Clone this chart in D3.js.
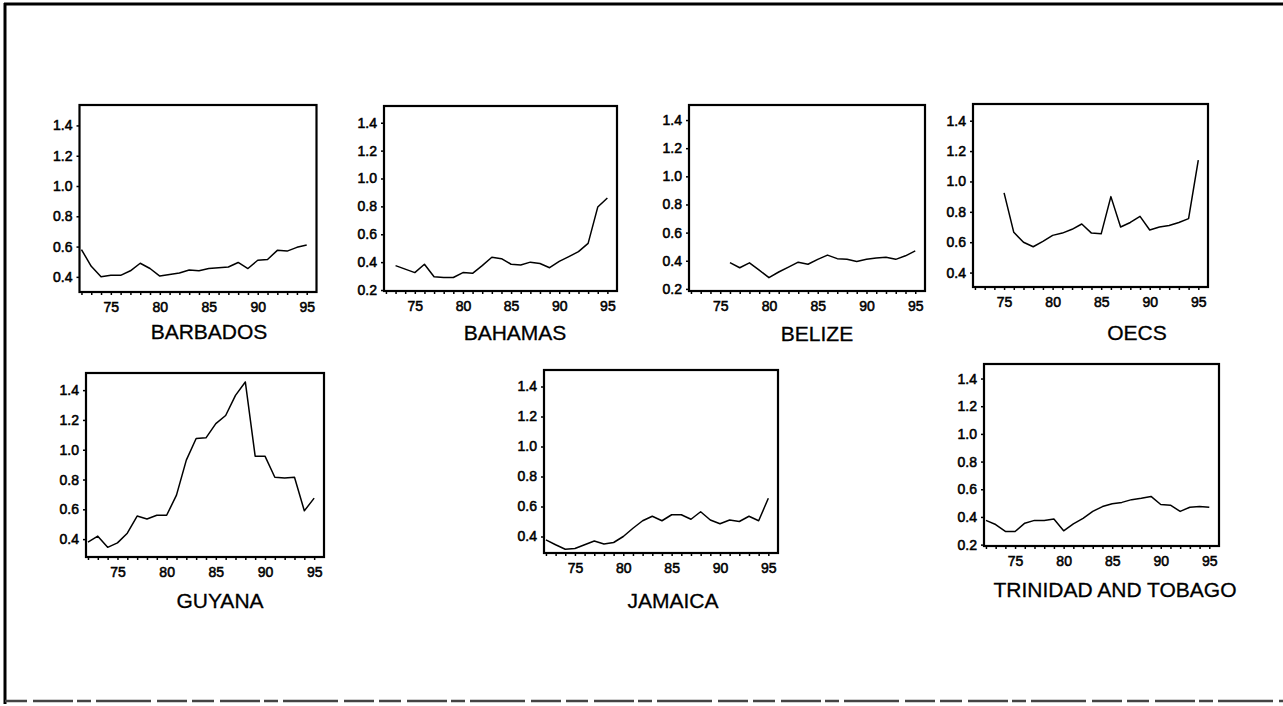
<!DOCTYPE html>
<html>
<head>
<meta charset="utf-8">
<script src="https://cdn.jsdelivr.net/npm/d3@7"></script>
<style>
  html, body { margin: 0; padding: 0; background: #fff; }
  svg { display: block; }
  text { font-family: "Liberation Sans", Arial, sans-serif; fill: #000; }
</style>
</head>
<body>
<svg id="chart" width="1283" height="706"></svg>
<script>
// Country series, one value per year starting at the given start year
const countries = ["BARBADOS", "BAHAMAS", "BELIZE", "OECS", "GUYANA", "JAMAICA", "TRINIDAD AND TOBAGO"];
const startYears = [72, 73, 76, 75, 72, 72, 72];

const barbados = [0.58, 0.47, 0.40, 0.41, 0.41, 0.44, 0.49, 0.455, 0.405, 0.415, 0.425, 0.445,
                  0.44, 0.455, 0.46, 0.465, 0.495, 0.455, 0.51, 0.515, 0.575, 0.57, 0.595, 0.61];
const bahamas = [0.375, 0.35, 0.325, 0.385, 0.295, 0.29, 0.29, 0.325, 0.32, 0.375, 0.435, 0.425,
                 0.385, 0.38, 0.40, 0.39, 0.36, 0.405, 0.44, 0.475, 0.535, 0.795, 0.86];
const belize = [0.387, 0.35, 0.385, 0.333, 0.28, 0.32, 0.355, 0.39, 0.375, 0.41, 0.44, 0.415,
                0.41, 0.395, 0.41, 0.42, 0.425, 0.41, 0.435, 0.47];
const oecs = [0.925, 0.665, 0.60, 0.57, 0.605, 0.645, 0.66, 0.685, 0.72, 0.66, 0.655, 0.90,
              0.70, 0.73, 0.77, 0.68, 0.70, 0.71, 0.73, 0.755, 1.14];
const guyana = [0.38, 0.42, 0.345, 0.375, 0.44, 0.555, 0.535, 0.56, 0.56, 0.695, 0.93, 1.075,
                1.08, 1.175, 1.23, 1.365, 1.455, 0.957, 0.957, 0.815, 0.81, 0.815, 0.59, 0.675];
const jamaica = [0.378, 0.345, 0.315, 0.32, 0.345, 0.37, 0.35, 0.36, 0.40, 0.455, 0.505, 0.535,
                 0.505, 0.545, 0.545, 0.515, 0.565, 0.51, 0.485, 0.51, 0.50, 0.535, 0.505, 0.655];
const trinidad = [0.375, 0.345, 0.295, 0.295, 0.355, 0.375, 0.375, 0.385, 0.30, 0.35, 0.39, 0.44,
                  0.475, 0.495, 0.505, 0.525, 0.535, 0.548, 0.49, 0.485, 0.44, 0.47, 0.475, 0.47];
const seriesList = [barbados, bahamas, belize, oecs, guyana, jamaica, trinidad];

// Axis ticks
const yTicksHigh = [0.4, 0.6, 0.8, 1.0, 1.2, 1.4];
const yTicksLow = [0.2, 0.4, 0.6, 0.8, 1.0, 1.2, 1.4];
const yTickSets = [yTicksHigh, yTicksLow, yTicksLow, yTicksHigh, yTicksHigh, yTicksHigh, yTicksLow];
const xTickLabels = [75, 80, 85, 90, 95];
const xMinorTicks = [72, 73, 74, 75, 76, 77, 78, 79, 80, 81, 82, 83, 84, 85, 86, 87, 88, 89, 90, 91, 92, 93, 94, 95];
const xDomain = [71.8, 96];
const yDomains = [[0.30, 1.535], [0.193, 1.52], [0.185, 1.507], [0.305, 1.51],
                  [0.28, 1.515], [0.29, 1.51], [0.19, 1.505]];

// Panel placement: frame box and title anchor
const panels = [
  { x: 79.5, y: 105, w: 237, h: 187, tx: 209, ty: 339 },
  { x: 384, y: 106, w: 233, h: 185, tx: 515, ty: 340 },
  { x: 689, y: 105, w: 236, h: 186, tx: 817, ty: 341 },
  { x: 973, y: 104, w: 235, h: 183, tx: 1137, ty: 340 },
  { x: 86, y: 373, w: 238, h: 184, tx: 220, ty: 608 },
  { x: 544, y: 370, w: 234, h: 183, tx: 673, ty: 608 },
  { x: 984, y: 364, w: 235, h: 182, tx: 1115, ty: 597 }
];

const svg = d3.select("#chart");

// Page border
svg.append("line").attr("x1", 4).attr("x2", 1283).attr("y1", 4).attr("y2", 4)
  .attr("stroke", "#000").attr("stroke-width", 3);
svg.append("line").attr("x1", 5).attr("x2", 5).attr("y1", 3).attr("y2", 704)
  .attr("stroke", "#000").attr("stroke-width", 3);
svg.append("line").attr("x1", 5).attr("x2", 1283).attr("y1", 701).attr("y2", 701)
  .attr("stroke", "#444").attr("stroke-width", 2.5)
  .attr("stroke-dasharray", "22,6,40,4,14,5,55,6,30,5");

panels.forEach((p, i) => {
  const g = svg.append("g").attr("transform", `translate(${p.x},${p.y})`);
  const x = d3.scaleLinear().domain(xDomain).range([0, p.w]);
  const y = d3.scaleLinear().domain(yDomains[i]).range([p.h, 0]);

  const xAxis = d3.axisBottom(x)
    .tickValues(xMinorTicks)
    .tickSize(3)
    .tickPadding(7)
    .tickFormat(d => xTickLabels.includes(d) ? String(d) : "");
  const gx = g.append("g").attr("transform", `translate(0,${p.h})`).call(xAxis);

  const yAxis = d3.axisLeft(y)
    .tickValues(yTickSets[i])
    .tickSize(3)
    .tickPadding(4)
    .tickFormat(d3.format(".1f"));
  const gy = g.append("g").call(yAxis);

  [gx, gy].forEach(a => {
    a.select(".domain").remove();
    a.selectAll(".tick line").attr("stroke", "#000").attr("stroke-width", 1.5);
    a.selectAll(".tick text")
      .style("font-family", '"Liberation Sans", Arial, sans-serif')
      .style("font-size", "14px")
      .attr("fill", "#000")
      .attr("stroke", "#000").attr("stroke-width", 0.55);
  });

  // Frame
  g.append("rect").attr("width", p.w).attr("height", p.h)
    .attr("fill", "none").attr("stroke", "#000").attr("stroke-width", 2.2);

  // Series line
  const vals = seriesList[i];
  const pts = vals.map((v, k) => [startYears[i] + k, v]);
  const line = d3.line().x(d => x(d[0])).y(d => y(d[1]));
  g.append("path").datum(pts)
    .attr("d", line)
    .attr("fill", "none").attr("stroke", "#000").attr("stroke-width", 1.5)
    .attr("stroke-linejoin", "round");

  // Title
  svg.append("text").attr("x", p.tx).attr("y", p.ty)
    .attr("text-anchor", "middle")
    .style("font-size", "21px")
    .attr("stroke", "#000").attr("stroke-width", 0.3)
    .text(countries[i]);
});
</script>
</body>
</html>
